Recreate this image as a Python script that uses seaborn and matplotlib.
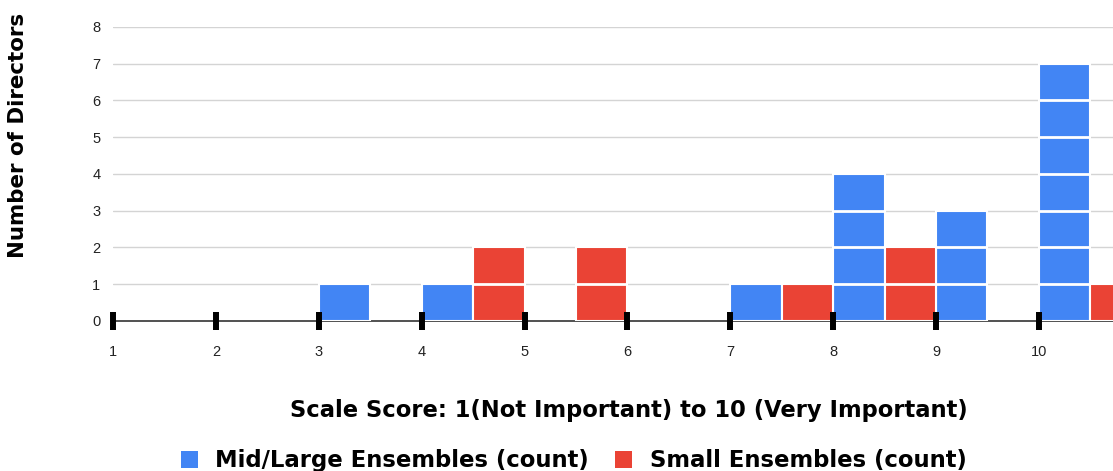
import numpy as np
import matplotlib
matplotlib.use("Agg")
import matplotlib.pyplot as plt
from matplotlib.patches import Patch
import seaborn as sns

# Histogram buckets (left edge of each 0.5-wide bucket) and counts
mid_scores = [3.0, 4.0, 7.0, 8.0, 9.0, 10.0]
mid_counts = [1, 1, 1, 4, 3, 7]
small_scores = [4.5, 5.5, 7.5, 8.5, 10.5]
small_counts = [2, 2, 1, 2, 1]

x_ticks = [1, 2, 3, 4, 5, 6, 7, 8, 9, 10]
y_ticks = [0, 1, 2, 3, 4, 5, 6, 7, 8]

series_names = ["Mid/Large Ensembles (count)", "Small Ensembles (count)"]
colors = ["#4285F4", "#EA4335"]

x_label = "Scale Score: 1(Not Important) to 10 (Very Important)"
y_label = "Number of Directors"

sns.set_theme(style="white")
plt.rcParams["font.family"] = ["Liberation Sans", "DejaVu Sans"]
bold_kw = dict(family="DejaVu Sans", weight="bold")

fig = plt.figure(figsize=(11.13, 4.71), dpi=100)
ax = fig.add_axes([0.1015, 0.3185, 0.8985, 0.6242])

bins = list(np.arange(1.0, 11.01, 0.5))
for scores, counts, color in [(mid_scores, mid_counts, colors[0]),
                              (small_scores, small_counts, colors[1])]:
    # one observation per director, placed inside its bucket
    obs = np.repeat(np.array(scores) + 0.25, counts)
    sns.histplot(x=obs, bins=bins, color=color, alpha=1,
                 edgecolor="white", linewidth=1.5, ax=ax, zorder=3)

# drop empty buckets, split the others into white-separated unit blocks
for p in list(ax.patches):
    h = int(round(p.get_height()))
    if h == 0:
        p.remove()
        continue
    x0 = p.get_x()
    x1 = x0 + p.get_width()
    for k in range(1, h):
        ax.hlines(k, x0, x1, color="white", lw=2, zorder=4)

ax.set_xlim(1, 10.72)
ax.set_ylim(0, 8)
ax.set_xticks(x_ticks)
ax.set_yticks(y_ticks)
ax.set_xticklabels([str(t) for t in x_ticks])
ax.set_yticklabels([str(t) for t in y_ticks])

for y in y_ticks[1:]:
    ax.axhline(y, color="#d4d4d4", lw=1, zorder=1)

for s in ["top", "right", "left"]:
    ax.spines[s].set_visible(False)
ax.spines["bottom"].set_color("#333333")
ax.spines["bottom"].set_linewidth(1.2)
ax.spines["bottom"].set_zorder(2)

ax.tick_params(axis="x", bottom=True, direction="inout", length=13, width=4.3,
               color="black", pad=11, labelsize=10.5, labelcolor="#222222")
ax.tick_params(axis="y", left=False, length=0, pad=9, labelsize=10.5,
               labelcolor="#222222")
ax.xaxis.set_zorder(6)
ax.set_xlabel("")
ax.set_ylabel("")

fig.text(0.0165, 0.713, y_label, rotation=90, ha="center", va="center",
         fontsize=15.4, color="black", **bold_kw)
fig.text(0.565, 0.128, x_label, ha="center", va="center",
         fontsize=16.3, color="black", **bold_kw)

handles = [Patch(facecolor=c, edgecolor="none") for c in colors]
fig.legend(handles, series_names, loc="center", bbox_to_anchor=(0.5153, 0.022),
           ncol=2, frameon=False, handlelength=0.75, handleheight=0.75,
           handletextpad=0.75, columnspacing=1.18, labelcolor="black",
           prop={"size": 16.4, **bold_kw})

fig.savefig("out.png", dpi=100)
